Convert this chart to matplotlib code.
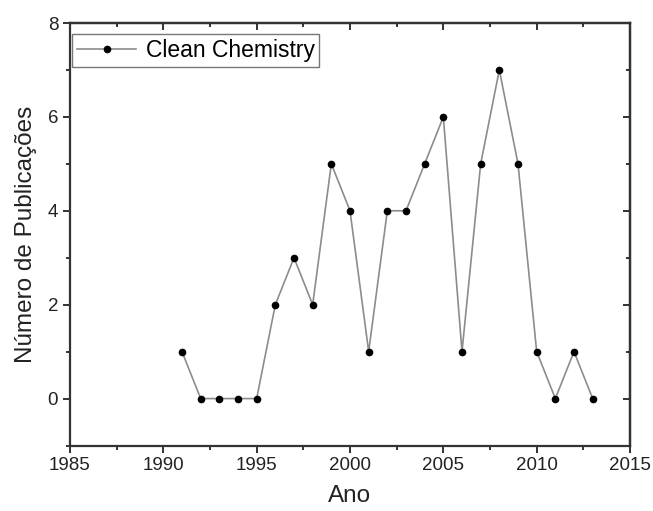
import matplotlib.pyplot as plt
from matplotlib.ticker import MultipleLocator

plt.rcParams['font.family'] = ['Liberation Sans', 'DejaVu Sans']

years = list(range(1991, 2014))
publications = [1, 0, 0, 0, 0, 2, 3, 2, 5, 4, 1, 4, 4, 5, 6, 1, 5, 7, 5, 1, 0, 1, 0]

fig = plt.figure(figsize=(6.53, 5.11), dpi=100)
ax = fig.add_axes([70 / 653, 1 - 445.5 / 511, 560 / 653, 422.5 / 511])

ax.plot(years, publications, color='#8c8c8c', lw=1.2, marker='o', ms=4.5,
        mfc='black', mec='black', label='Clean Chemistry')

ax.set_xlim(1985, 2015)
ax.set_ylim(-1, 8)
ax.xaxis.set_major_locator(MultipleLocator(5))
ax.xaxis.set_minor_locator(MultipleLocator(2.5))
ax.yaxis.set_major_locator(MultipleLocator(2))
ax.yaxis.set_minor_locator(MultipleLocator(1))

for s in ax.spines.values():
    s.set_linewidth(1.6)
    s.set_color('#333333')

ax.tick_params(which='both', direction='out', color='#333333', width=1.4,
               labelsize=13.5, labelcolor='#222222')
ax.tick_params(which='major', length=5)
ax.tick_params(which='minor', length=3)

# inward ticks on top and right, like the original
top = ax.secondary_xaxis('top')
top.xaxis.set_major_locator(MultipleLocator(5))
top.xaxis.set_minor_locator(MultipleLocator(2.5))
top.tick_params(which='both', direction='in', color='#333333', width=1.4, labeltop=False)
top.tick_params(which='major', length=5)
top.tick_params(which='minor', length=3)
top.spines['top'].set_linewidth(1.6)
right = ax.secondary_yaxis('right')
right.yaxis.set_major_locator(MultipleLocator(2))
right.yaxis.set_minor_locator(MultipleLocator(1))
right.tick_params(which='both', direction='in', color='#333333', width=1.4, labelright=False)
right.tick_params(which='major', length=5)
right.tick_params(which='minor', length=3)
right.spines['right'].set_linewidth(1.6)

ax.set_xlabel('Ano', fontsize=17.5, color='#222222', labelpad=8)
ax.set_ylabel('Número de Publicações', fontsize=17.5, color='#222222', labelpad=8)

leg = ax.legend(loc='upper left', fontsize=16.5, frameon=True, fancybox=False,
                borderaxespad=0.0, handlelength=2.6, handletextpad=0.4,
                borderpad=0.2, bbox_to_anchor=(0.004, 0.973))
leg.get_frame().set_edgecolor('#555555')
leg.get_frame().set_linewidth(1.0)

fig.savefig('out.png', dpi=100)
